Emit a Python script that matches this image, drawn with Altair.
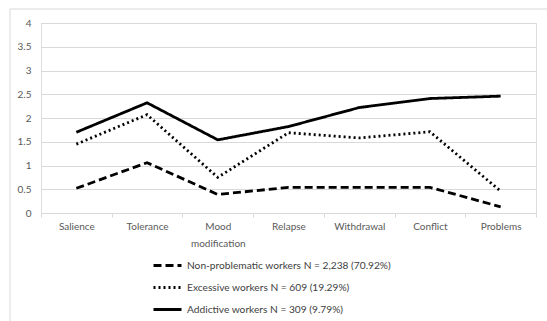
import altair as alt
import pandas as pd

categories = ["Salience", "Tolerance", "Mood modification", "Relapse",
              "Withdrawal", "Conflict", "Problems"]
series = ["Non-problematic workers N = 2,238 (70.92%)",
          "Excessive workers N = 609 (19.29%)",
          "Addictive workers N = 309 (9.79%)"]
non_problematic = [0.52, 1.06, 0.39, 0.54, 0.54, 0.54, 0.13]
excessive = [1.45, 2.07, 0.75, 1.69, 1.58, 1.71, 0.46]
addictive = [1.70, 2.32, 1.54, 1.82, 2.22, 2.41, 2.46]
y_ticks = [0, 0.5, 1, 1.5, 2, 2.5, 3, 3.5, 4]

rows = []
for s, vals in zip(series, [non_problematic, excessive, addictive]):
    for c, v in zip(categories, vals):
        rows.append({"series": s, "category": c, "value": v})
df = pd.DataFrame(rows)

FONT = "Lato"
GRAY = "#595959"

border = alt.Chart(pd.DataFrame({"a": [0]})).mark_rect(
    fill=None, stroke="#d9d9d9", strokeWidth=1
).encode(
    x=alt.value(-31), x2=alt.value(520), y=alt.value(-14), y2=alt.value(400)
)

lines = alt.Chart(df).mark_line(strokeWidth=2.8, color="black").encode(
    x=alt.X("category:N", sort=categories, title=None,
            scale=alt.Scale(paddingInner=0, paddingOuter=0),
            axis=alt.Axis(labelAngle=0, tickBand="extent", domainColor="#d9d9d9",
                          tickColor="#d9d9d9", tickSize=4, labelPadding=4,
                          labelColor=GRAY, labelFontSize=10, labelFont=FONT,
                          labelLineHeight=17, grid=False,
                          labelExpr="datum.label == 'Mood modification' ? ['Mood', 'modification'] : datum.label")),
    y=alt.Y("value:Q", title=None,
            scale=alt.Scale(domain=[0, 4], nice=False),
            axis=alt.Axis(values=y_ticks, format="~g", domain=False, ticks=False,
                          labelPadding=10, labelColor=GRAY, labelFontSize=10,
                          labelFont=FONT, gridColor="#d9d9d9", gridWidth=1)),
    strokeDash=alt.StrokeDash("series:N", sort=series,
                              scale=alt.Scale(domain=series,
                                              range=[[8, 4], [2, 3], [1, 0]]),
                              legend=alt.Legend(title=None, orient="none",
                                                legendX=111, legendY=227,
                                                direction="vertical",
                                                symbolType="stroke", symbolSize=784,
                                                symbolStrokeWidth=2.8,
                                                symbolStrokeColor="black",
                                                labelFont=FONT, labelFontSize=10.2,
                                                labelColor="#404040", labelLimit=0,
                                                rowPadding=-7, labelOffset=4)),
)

chart = alt.layer(border, lines).properties(
    width=495, height=190,
    autosize=alt.AutoSizeParams(type="none"),
    padding={"left": 41, "top": 23, "right": 11, "bottom": 108},
).configure_view(stroke=None).configure(background="white")

chart.save("out.html", embed_options={"renderer": "svg", "actions": False})
